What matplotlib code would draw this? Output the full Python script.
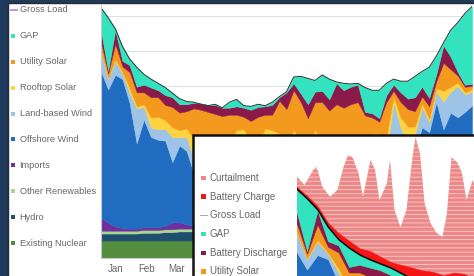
import numpy as np
import matplotlib
matplotlib.use("Agg")
import matplotlib.pyplot as plt
from matplotlib.patches import Rectangle

plt.rcParams["font.family"] = ["Liberation Sans", "DejaVu Sans"]
plt.rcParams["hatch.linewidth"] = 0.6

# ---- data: weekly values (GW), week 0 = Jan 1 ----
week = list(range(53))

existing_nuclear = [2.9] * 53
hydro = [1.0, 1.0, 1.0, 1.0, 1.0, 1.0, 1.1, 1.1, 1.1, 1.2, 1.2, 1.3, 1.3,
         1.3, 1.3, 1.2, 1.2, 1.2, 1.2, 1.1, 1.1, 1.1, 1.1, 1.1, 1.0, 1.0,
         1.0, 1.0, 1.0, 1.0, 1.0, 1.0, 1.0, 1.0, 1.0, 1.0, 1.0, 1.0, 1.0,
         1.0, 1.0, 1.0, 1.0, 1.0, 1.0, 1.0, 1.0, 1.0, 1.0, 1.0, 1.0, 1.0, 1.0]
other_renewables = [0.4] * 53
imports = [1.8, 1.2, 0.6, 0.4, 0.3, 0.3, 0.4, 0.4, 0.4, 0.5, 1.0, 0.9, 0.6,
           0.4, 0.4, 0.5, 0.4, 0.4, 0.4, 0.3, 0.4, 0.4, 0.4, 0.5, 0.4, 0.4,
           0.4, 0.4, 0.4, 0.3, 0.4, 0.4, 0.4, 0.4, 0.4, 0.4, 0.4, 0.4, 0.4,
           0.4, 0.4, 0.4, 0.4, 0.4, 0.4, 0.4, 0.4, 0.4, 0.5, 0.4, 0.4, 0.4, 0.4]
offshore_wind = [21.0, 19.0, 21.7, 21.3, 18.0, 12.2, 15.4, 12.9, 12.5, 12.2, 8.6, 11.0, 10.5,
                 7.5, 7.0, 6.5, 6.0, 6.5, 6.0, 6.5, 6.5, 6.0, 6.0, 6.5, 6.0, 6.0,
                 5.5, 6.5, 6.0, 5.5, 6.0, 6.0, 5.5, 6.0, 6.5, 6.0, 6.5, 7.0, 7.5,
                 7.0, 7.5, 9.0, 10.0, 9.0, 11.0, 14.4, 13.7, 18.0, 14.0, 16.5, 15.8, 16.6, 17.5]
land_wind = [2.8, 1.5, 1.9, 0.8, 1.5, 5.0, 1.8, 1.4, 1.5, 1.7, 3.6, 1.2, 2.0,
             2.0, 2.0, 1.8, 1.5, 1.8, 1.5, 1.5, 1.5, 1.5, 1.5, 1.5, 1.5, 1.5,
             1.5, 1.5, 2.0, 1.5, 2.0, 1.5, 1.5, 1.5, 1.5, 2.0, 2.0, 2.5, 3.0,
             3.5, 3.0, 9.0, 4.4, 3.0, 2.5, 2.9, 1.4, 1.5, 4.0, 3.0, 4.5, 2.5, 2.0]
rooftop_solar = [0.2, 0.2, 0.3, 0.2, 0.6, 0.3, 0.4, 1.4, 1.8, 1.2, 1.4, 1.0, 1.2,
                 3.0, 3.5, 4.0, 4.5, 4.0, 4.5, 6.0, 6.0, 5.0, 4.5, 6.0, 6.5, 6.0,
                 5.0, 6.0, 4.5, 4.5, 6.0, 5.0, 4.5, 4.5, 4.0, 4.5, 4.0, 3.5, 3.0,
                 3.0, 2.5, 0.8, 1.4, 2.5, 1.0, 0.5, 0.5, 0.5, 1.5, 0.7, 0.5, 0.3, 0.3]
utility_solar = [1.2, 0.6, 2.2, 0.8, 2.3, 2.0, 1.7, 2.9, 2.8, 2.2, 2.9, 2.5, 2.5,
                 4.3, 4.1, 4.0, 4.1, 3.5, 4.0, 2.2, 1.8, 2.7, 3.8, 2.0, 2.2, 4.7,
                 5.0, 5.7, 5.5, 4.3, 4.0, 5.5, 5.3, 5.7, 5.2, 5.2, 5.5, 3.1, 2.3,
                 1.7, 5.0, 0.8, 2.2, 2.5, 2.2, 1.0, 1.8, 1.0, 4.0, 2.5, 1.0, 0.8, 0.5]
battery_discharge = [1.6, 0.4, 2.0, 0.8, 1.0, 0.8, 1.1, 1.4, 1.0, 1.4, 1.4, 1.2, 1.0,
                     0.8, 0.9, 1.0, 1.3, 1.2, 1.0, 1.2, 1.3, 1.6, 1.4, 1.2, 1.4, 0.5,
                     2.4, 1.0, 1.2, 2.0, 1.5, 1.6, 1.6, 3.0, 2.5, 2.5, 2.5, 0.5, 0.6,
                     0.5, 1.0, 0.9, 1.4, 1.5, 2.0, 1.4, 1.2, 1.0, 2.5, 1.8, 0.5, 0.3, 0.3]
gross_load = [36.2, 34.8, 33.2, 30.7, 28.9, 27.7, 26.7, 26.0, 25.4, 24.8, 24.0, 23.2, 22.8,
              22.7, 22.4, 22.2, 22.4, 21.9, 22.7, 23.1, 22.2, 22.1, 22.4, 22.2, 22.7, 23.5,
              24.2, 26.3, 26.4, 26.1, 25.8, 26.6, 26.0, 25.6, 25.4, 25.3, 25.4, 24.8, 24.4,
              24.4, 25.4, 26.0, 25.7, 25.7, 26.4, 27.1, 27.7, 29.3, 31.2, 33.0, 34.1, 35.4, 36.4]

# inset (battery scenario)
battery_charge = [0.3, 0.4, 0.5, 0.6, 0.9, 1.0, 0.9, 1.2, 1.0, 0.8, 1.2, 1.6, 1.6,
                  1.5, 1.2, 1.8, 1.5, 1.2, 1.0, 1.5, 1.8, 1.5, 1.2, 1.0, 1.2, 1.5,
                  1.0, 0.8, 0.6, 0.5, 0.8, 0.6, 0.5, 0.4, 0.5, 0.6, 0.5, 0.8, 1.0,
                  1.2, 0.8, 1.0, 0.8, 0.8, 0.6, 0.5, 0.6, 0.4, 0.3, 0.3, 0.2, 0.2, 0.2]
curtail_day = [0, 5, 11, 13, 17, 22, 27, 31, 34, 37, 41, 44, 49, 52, 55, 60, 62, 65,
               69, 73, 77, 79, 82, 85, 89, 93, 97, 100, 103, 107, 110, 113, 117, 120]
curtail_top = [38.0, 36.8, 39.0, 39.4, 36.5, 35.1, 36.1, 39.4, 41.1, 40.8, 38.5, 35.1,
               40.4, 39.0, 34.6, 37.1, 40.4, 33.2, 30.7, 33.2, 40.8, 43.7, 41.4, 34.2,
               31.3, 29.9, 29.3, 32.8, 40.8, 40.0, 38.5, 34.6, 37.5, 36.0]

# only Jan-Mar labels are visible, the rest sit under the inset
months = ["Jan", "Feb", "Mar"]
month_mid = [14, 45, 74]

C_NUC, C_HYD, C_OTH, C_IMP = "#548d3e", "#1f4f6e", "#a8d88c", "#7030a0"
C_OFF, C_LAND, C_ROOF, C_UTIL = "#1f6cc0", "#9dc3e6", "#ffd23f", "#f39a1e"
C_BDIS, C_GAP, C_LOAD = "#8b1a4b", "#33e3c0", "#b4a0d8"
C_BCH, C_CURT = "#f51515", "#ec8888"

W, H = 474.0, 276.0


def fx(px):
    return px / W


def fy(py):
    return 1 - py / H


days = np.array(week) * 7
supply = [existing_nuclear, hydro, other_renewables, imports, offshore_wind,
          land_wind, rooftop_solar, utility_solar, battery_discharge]
gap = np.clip(np.array(gross_load) - np.sum(supply, axis=0), 0, None)
stack_colors = [C_NUC, C_HYD, C_OTH, C_IMP, C_OFF, C_LAND, C_ROOF, C_UTIL, C_BDIS, C_GAP]

fig = plt.figure(figsize=(4.74, 2.76), dpi=100)
fig.patch.set_facecolor("#1e3a5c")

# main white panel
fig.add_artist(Rectangle((fx(8), -0.05), 1.1, fy(3) + 0.05, transform=fig.transFigure,
                         facecolor="white", edgecolor="#2a2a2a", lw=1.0, zorder=0.5))

ax = fig.add_axes([fx(101), fy(258), (472 - 101) / W, (258 - 5) / H])
ax.set_zorder(1)
polys = ax.stackplot(days, *supply, gap, colors=stack_colors, lw=0)
for p, c in zip(polys, stack_colors):
    p.set_edgecolor(c)
    p.set_linewidth(0.3)
ax.plot(days, gross_load, color="#333333", lw=0.7)
ax.set_xlim(0, 364)
ax.set_ylim(0.4, 36.6)
ax.set_yticks(range(5, 36, 5))
ax.yaxis.grid(True, color="#d9d9d9", lw=0.6)
ax.set_axisbelow(True)
ax.set_xticks(month_mid)
ax.set_xticklabels(months, fontsize=7, color="#666666")
ax.tick_params(left=False, labelleft=False, bottom=False, pad=0.5)
for s in ["top", "right"]:
    ax.spines[s].set_visible(False)
ax.spines["left"].set_color("#c8c8c8")
ax.spines["bottom"].set_color("#c8c8c8")

# main legend
main_labels = ["Gross Load", "GAP", "Utility Solar", "Rooftop Solar", "Land-based Wind",
               "Offshore Wind", "Imports", "Other Renewables", "Hydro", "Existing Nuclear"]
main_colors = [C_LOAD, C_GAP, C_UTIL, C_ROOF, C_LAND, C_OFF, C_IMP, C_OTH, C_HYD, C_NUC]
for i, (lab, col) in enumerate(zip(main_labels, main_colors)):
    py = 10 + i * 25.9
    if lab == "Gross Load":
        fig.add_artist(Rectangle((fx(10), fy(py + 0.6)), fx(8), 1.2 / H, transform=fig.transFigure,
                                 facecolor=col, lw=0, zorder=1))
    else:
        fig.add_artist(Rectangle((fx(11), fy(py + 2)), fx(4), 4 / H, transform=fig.transFigure,
                                 facecolor=col, lw=0, zorder=1))
    fig.text(fx(19.5), fy(py), lab, fontsize=6.6, color="#666666", va="center", zorder=1)

# inset panel
fig.add_artist(Rectangle((fx(193), -0.05), 1.1, fy(135) + 0.05, transform=fig.transFigure,
                         facecolor="white", edgecolor="#111111", lw=1.8, zorder=2))

ax2 = fig.add_axes([fx(297), fy(440), 365 * 1.5 / W, (440 - 136) / H])
ax2.set_zorder(3)
ax2.patch.set_visible(False)
ax2.fill_between(curtail_day, curtail_top, 0, facecolor=C_CURT, edgecolor="#f8cccc",
                 hatch="----", lw=0)
polys2 = ax2.stackplot(days, *supply, gap, battery_charge, colors=stack_colors + [C_BCH], lw=0)
for p, c in zip(polys2, stack_colors + [C_BCH]):
    p.set_edgecolor(c)
    p.set_linewidth(0.3)
ax2.plot(days, gross_load, color="#111111", lw=1.2)
ax2.set_xlim(0, 365)
ax2.set_ylim(0, (440 - 136) / 6.93)
ax2.axis("off")

inset_labels = ["Curtailment", "Battery Charge", "Gross Load", "GAP", "Battery Discharge", "Utility Solar"]
inset_colors = [C_CURT, C_BCH, C_LOAD, C_GAP, C_BDIS, C_UTIL]
for i, (lab, col) in enumerate(zip(inset_labels, inset_colors)):
    py = 178 + i * 18.7
    if lab == "Gross Load":
        fig.add_artist(Rectangle((fx(200), fy(py + 0.7)), fx(8), 1.4 / H, transform=fig.transFigure,
                                 facecolor=col, lw=0, zorder=4))
    else:
        fig.add_artist(Rectangle((fx(201), fy(py + 2.3)), fx(4.6), 4.6 / H, transform=fig.transFigure,
                                 facecolor=col, lw=0, zorder=4))
    fig.text(fx(209.5), fy(py), lab, fontsize=7, color="#666666", va="center", zorder=4)

fig.savefig("out.png", dpi=100, facecolor=fig.get_facecolor())
